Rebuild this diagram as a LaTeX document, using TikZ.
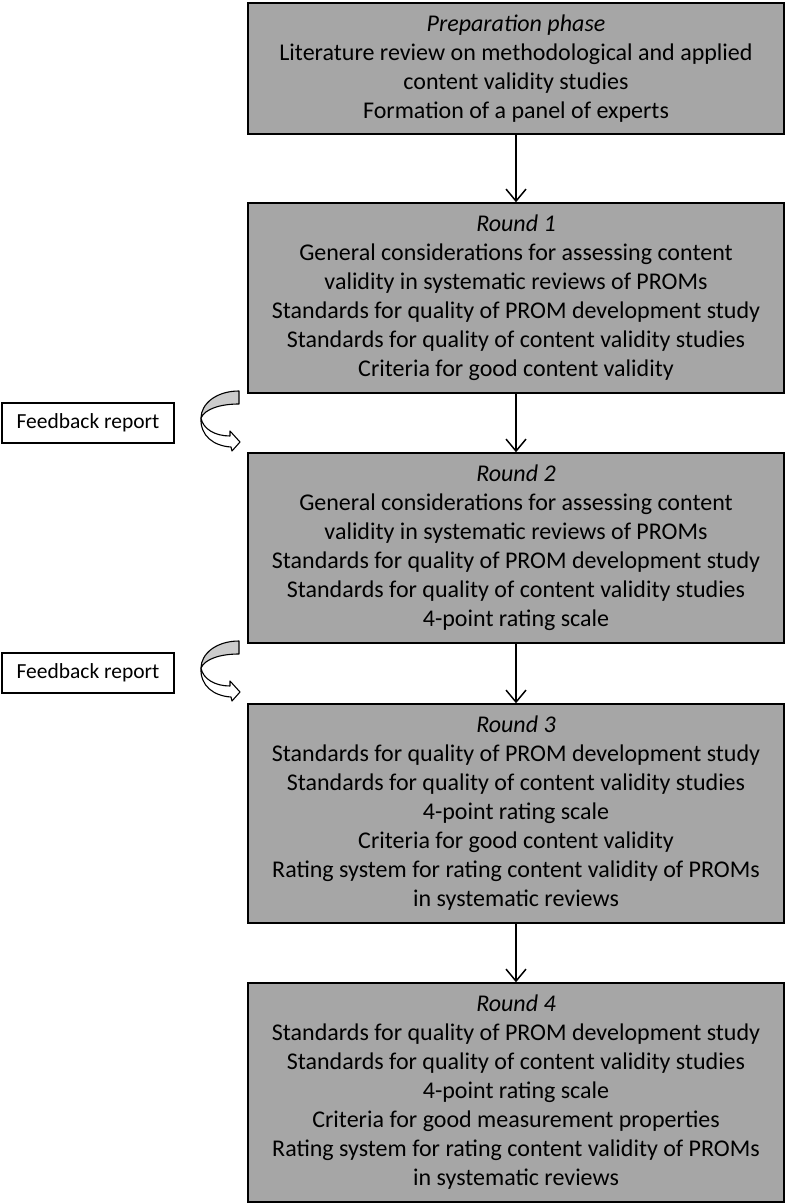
\documentclass[tikz,border=0pt]{standalone}
\usepackage{fontspec}
\setmainfont{Carlito}
\usetikzlibrary{arrows.meta}
\definecolor{boxgray}{RGB}{166,166,166}
\definecolor{arrgray}{RGB}{204,204,204}
\begin{document}
\begin{tikzpicture}[x=1pt,y=-1pt,
  stage/.style={draw=black, line width=1.5pt, fill=boxgray, minimum width=536pt, align=center, font=\fontsize{24}{29}\selectfont, inner sep=0pt},
  fbbox/.style={draw=black, line width=1.2pt, fill=white, minimum width=172pt, minimum height=40pt, font=\fontsize{21.5}{26}\selectfont, inner sep=0pt},
  flow/.style={-{Straight Barb[length=12pt,width=20pt]}, line width=1.5pt},
  curv/.style={draw=black, line width=1.1pt, line join=round}
]
\useasboundingbox (0,0) rectangle (786,1204);

\node[stage, minimum height=131pt] (prep) at (516,68.5) {\textit{Preparation phase}\\Literature review on methodological and applied\\content validity studies\\Formation of a panel of experts};
\node[stage, minimum height=190pt] (r1) at (516,298) {\textit{Round 1}\\General considerations for assessing content\\validity in systematic reviews of PROMs\\Standards for quality of PROM development study\\Standards for quality of content validity studies\\Criteria for good content validity};
\node[stage, minimum height=190pt] (r2) at (516,548) {\textit{Round 2}\\General considerations for assessing content\\validity in systematic reviews of PROMs\\Standards for quality of PROM development study\\Standards for quality of content validity studies\\4-point rating scale};
\node[stage, minimum height=219pt] (r3) at (516,813.5) {\textit{Round 3}\\Standards for quality of PROM development study\\Standards for quality of content validity studies\\4-point rating scale\\Criteria for good content validity\\Rating system for rating content validity of PROMs\\in systematic reviews};
\node[stage, minimum height=219pt] (r4) at (516,1092.5) {\textit{Round 4}\\Standards for quality of PROM development study\\Standards for quality of content validity studies\\4-point rating scale\\Criteria for good measurement properties\\Rating system for rating content validity of PROMs\\in systematic reviews};

\node[fbbox] (fb1) at (88,423) {Feedback report};
\node[fbbox] (fb2) at (88,673) {Feedback report};

\draw[flow] (prep) -- (r1);
\draw[flow] (r1) -- (r2);
\draw[flow] (r2) -- (r3);
\draw[flow] (r3) -- (r4);

\foreach \dy in {0,250}{
\begin{scope}[shift={(0,\dy)}]
  % lower white band with arrow head
  \filldraw[curv, fill=white] (201,418) .. controls (200,436) and (214,446) .. (231,447)
    -- (232,451) -- (240,442) -- (230,431) -- (230,436)
    .. controls (215,436) and (203,429) .. (201,418) -- cycle;
  % upper grey band
  \filldraw[curv, fill=arrgray] (239,391) .. controls (216,391) and (201,404) .. (201,418)
    .. controls (205,409) and (220,404) .. (239,404) -- cycle;
\end{scope}
}
\end{tikzpicture}
\end{document}
